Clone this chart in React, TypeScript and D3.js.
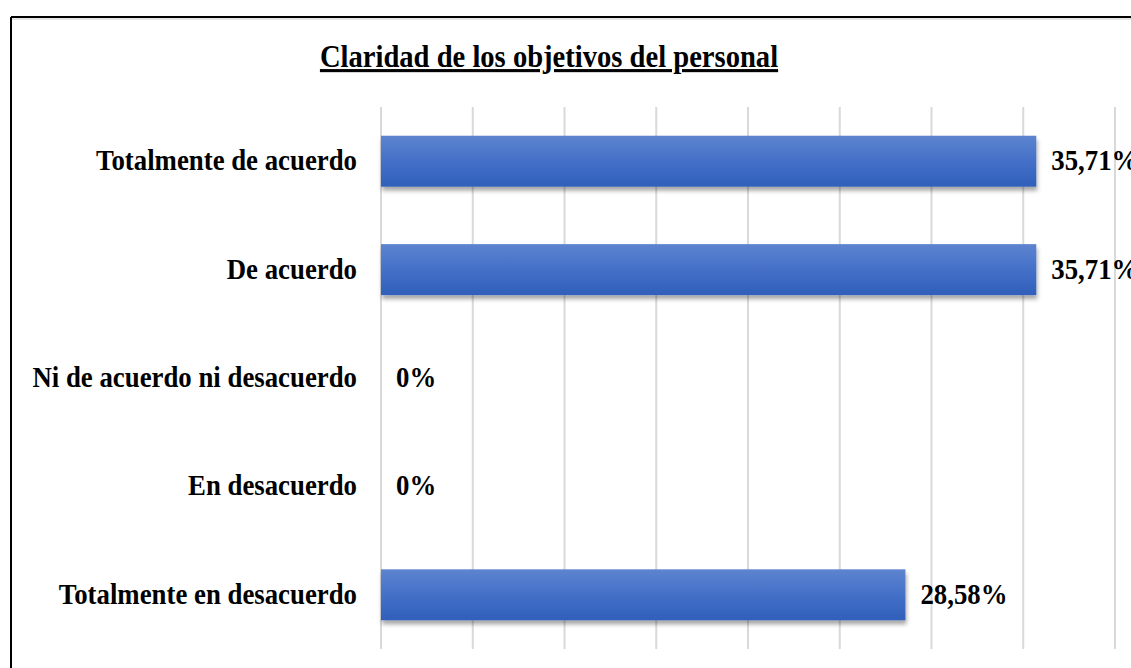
import React from "react";
import * as d3 from "d3";

const categories = [
  "Totalmente de acuerdo",
  "De acuerdo",
  "Ni de acuerdo ni desacuerdo",
  "En desacuerdo",
  "Totalmente en desacuerdo",
];
const values = [35.71, 35.71, 0, 0, 28.58];
const valueLabels = ["35,71%", "35,71%", "0%", "0%", "28,58%"];
const gridTicks = [0, 5, 10, 15, 20, 25, 30, 35, 40];
const title = "Claridad de los objetivos del personal";

const W = 1131;
const H = 668;
const FONT = "'Liberation Serif', 'Times New Roman', serif";

export default function App() {
  const x = d3.scaleLinear().domain([0, 40]).range([381, 1115]);
  const y = d3
    .scaleBand<string>()
    .domain(categories)
    .range([107, 649])
    .paddingInner(0.53)
    .paddingOuter(0.265);
  const bw = y.bandwidth();

  return (
    <div style={{ position: "absolute", left: 0, top: 0, width: W, height: H, background: "#fff" }}>
      <svg width={W} height={H} style={{ display: "block" }}>
        <defs>
          <linearGradient id="barGrad" x1="0" y1="0" x2="0" y2="1">
            <stop offset="0%" stopColor="#5d84cf" />
            <stop offset="50%" stopColor="#4470c8" />
            <stop offset="100%" stopColor="#2f5fb9" />
          </linearGradient>
          <filter id="shadow" x="-5%" y="-20%" width="110%" height="150%">
            <feDropShadow dx="1" dy="4" stdDeviation="2" floodColor="#000" floodOpacity="0.35" />
          </filter>
        </defs>
        <rect x={0} y={0} width={W} height={H} fill="#fff" />
        {/* border */}
        <line x1={11} y1={17} x2={W} y2={17} stroke="#000" strokeWidth={2} />
        <line x1={11} y1={17} x2={11} y2={H} stroke="#000" strokeWidth={2} />
        <line x1={12} y1={19} x2={W} y2={19} stroke="#ccc" strokeWidth={1} />

        {/* title */}
        <g transform={`translate(549, 67) scale(1, 1.08)`}>
          <text
            x={0}
            y={0}
            textAnchor="middle"
            fontFamily={FONT}
            fontWeight="bold"
            fontSize={28.6}
            textDecoration="underline"
            fill="#000"
          >
            {title}
          </text>
        </g>

        {/* gridlines */}
        {gridTicks.map((t) => (
          <line
            key={t}
            x1={x(t)}
            x2={x(t)}
            y1={107}
            y2={649}
            stroke="#d9d9d9"
            strokeWidth={2}
          />
        ))}

        {/* bars */}
        {categories.map((c, i) => (
          <rect
            key={c}
            x={x(0)}
            y={y(c)!}
            width={x(values[i]) - x(0)}
            height={bw}
            fill="url(#barGrad)"
            filter="url(#shadow)"
          />
        ))}

        {/* category labels */}
        {categories.map((c) => (
          <g key={"l" + c} transform={`translate(357, ${y(c)! + bw / 2 + 9}) scale(1, 1.07)`}>
            <text
              x={0}
              y={0}
              textAnchor="end"
              fontFamily={FONT}
              fontWeight="bold"
              fontSize={26.8}
              fill="#000"
            >
              {c}
            </text>
          </g>
        ))}

        {/* value labels */}
        {categories.map((c, i) => (
          <g key={"v" + c} transform={`translate(${x(values[i]) + 15}, ${y(c)! + bw / 2 + 9}) scale(1, 1.07)`}>
            <text
              x={0}
              y={0}
              fontFamily={FONT}
              fontWeight="bold"
              fontSize={26.8}
              fill="#000"
            >
              {valueLabels[i]}
            </text>
          </g>
        ))}
      </svg>
    </div>
  );
}
